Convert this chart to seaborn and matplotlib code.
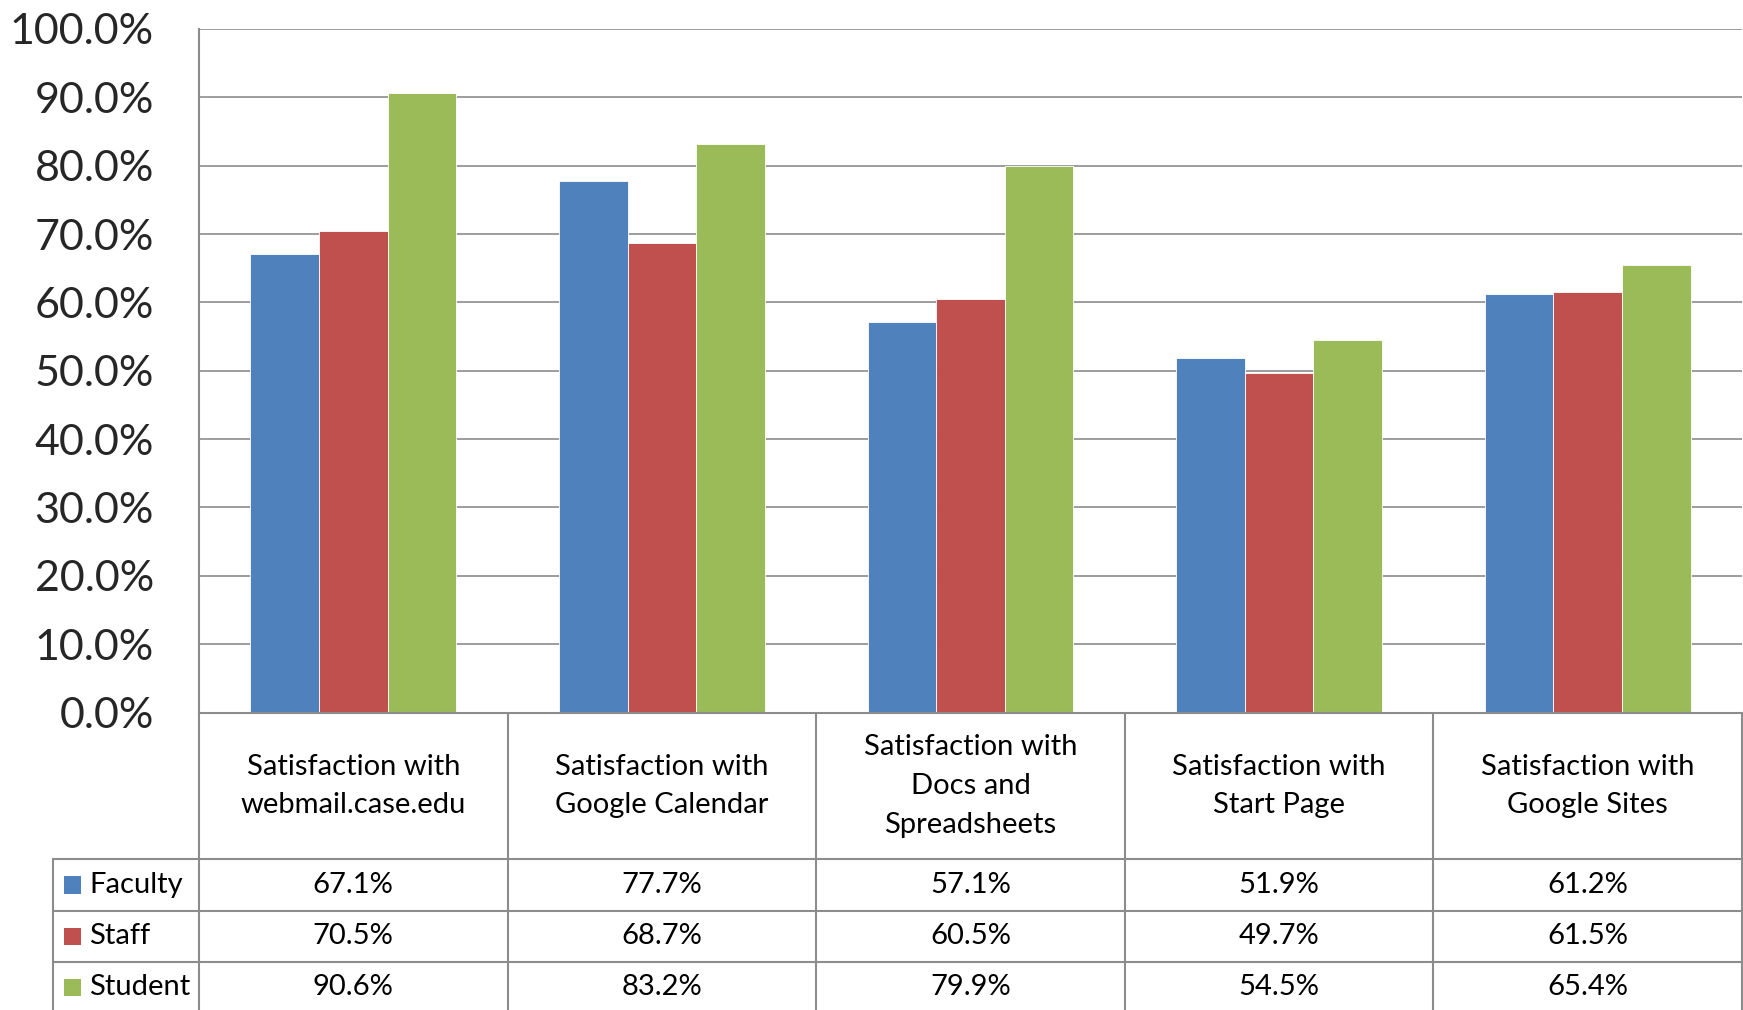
import matplotlib
matplotlib.use("Agg")
import matplotlib.pyplot as plt
import seaborn as sns
import pandas as pd
from matplotlib.patches import Rectangle

categories = [
    "Satisfaction with\nwebmail.case.edu",
    "Satisfaction with\nGoogle Calendar",
    "Satisfaction with\nDocs and\nSpreadsheets",
    "Satisfaction with\nStart Page",
    "Satisfaction with\nGoogle Sites",
]
groups = ["Faculty", "Staff", "Student"]
faculty = [67.1, 77.7, 57.1, 51.9, 61.2]
staff = [70.5, 68.7, 60.5, 49.7, 61.5]
student = [90.6, 83.2, 79.9, 54.5, 65.4]
colors = ["#4F81BD", "#C0504D", "#9BBB59"]
y_ticks = [0, 10, 20, 30, 40, 50, 60, 70, 80, 90, 100]

rows = []
for g, vals in zip(groups, [faculty, staff, student]):
    for c, v in zip(categories, vals):
        rows.append({"category": c, "group": g, "value": v})
df = pd.DataFrame(rows)

sns.set_theme(style="white")
plt.rcParams["font.family"] = ["Lato", "DejaVu Sans"]

W, H = 1743, 1010
fig = plt.figure(figsize=(W / 100, H / 100), dpi=100)

# layout in pixels (from top-left)
ax_left, ax_right, ax_top, ax_zero = 199, 1742, 29, 712.5
leg_left = 53.4
line_col = "#8c8c8c"

ax = fig.add_axes([ax_left / W, (H - ax_zero) / H,
                   (ax_right - ax_left) / W, (ax_zero - ax_top) / H])
sns.barplot(data=df, x="category", y="value", hue="group", order=categories,
            hue_order=groups, palette=colors, saturation=1, width=0.667, gap=0,
            edgecolor="white", linewidth=0.6, legend=False, ax=ax)
ax.set_xlim(-0.5, len(categories) - 0.5)
ax.set_ylim(0, 100)
ax.set_yticks(y_ticks)
ax.set_yticklabels([f"{t:.1f}%" for t in y_ticks], fontsize=31)
ax.tick_params(axis="y", length=0, pad=32.5)
ax.set_xticks([])
ax.set_xlabel("")
ax.set_ylabel("")
ax.set_axisbelow(True)
ax.yaxis.grid(True, color=line_col, linewidth=1.2)
for side in ["top", "right"]:
    ax.spines[side].set_visible(False)
for side in ["left", "bottom"]:
    ax.spines[side].set_color(line_col)
    ax.spines[side].set_linewidth(1.5)

# data table under the bars
tax = fig.add_axes([ax_left / W, 0, (ax_right - ax_left) / W, (H - ax_zero) / H])
header_h = 2.87
tax.set_xlim(-0.5, len(categories) - 0.5)
tax.set_ylim(5.81, 0)
tax.axis("off")
px = len(categories) / (ax_right - ax_left)
x_leg = -0.5 - (ax_left - leg_left) * px

lk = dict(color=line_col, linewidth=1.5, clip_on=False)
for i in range(len(categories) + 1):
    tax.plot([i - 0.5, i - 0.5], [0, 6], **lk)
tax.plot([x_leg, x_leg], [header_h, 6], **lk)
for r in range(len(groups)):
    tax.plot([x_leg, len(categories) - 0.5], [header_h + r, header_h + r], **lk)

for i, c in enumerate(categories):
    tax.text(i, header_h / 2, c, ha="center", va="center", fontsize=21,
             linespacing=1.6, color="black")

for r, (g, vals) in enumerate(zip(groups, [faculty, staff, student])):
    yc = header_h + r + 0.5
    for i, v in enumerate(vals):
        tax.text(i, yc, f"{v:.1f}%", ha="center", va="center", fontsize=21, color="black")
    sq = 17 * px
    tax.add_patch(Rectangle((x_leg + 11 * px, yc - 0.17), sq, 0.34,
                            facecolor=colors[r], edgecolor="none", clip_on=False))
    tax.text(x_leg + 36 * px, yc, g, ha="left", va="center", fontsize=21, color="black")

fig.savefig("out.png", dpi=100)
